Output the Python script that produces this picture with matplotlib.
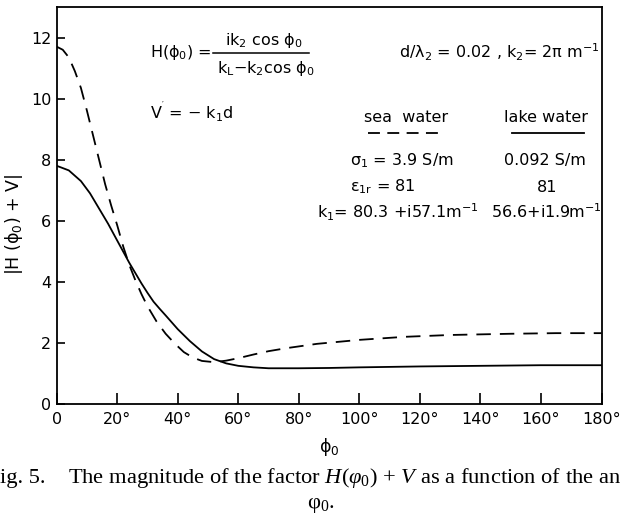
import matplotlib.pyplot as plt
from matplotlib.lines import Line2D

plt.rcParams['font.family'] = ['DejaVu Sans']
plt.rcParams['mathtext.default'] = 'regular'
plt.rcParams['mathtext.fontset'] = 'custom'
plt.rcParams['mathtext.it'] = 'Liberation Serif:italic'
plt.rcParams['mathtext.rm'] = 'Liberation Serif'

# angle phi_0 in degrees, |H(phi_0)+V|
phi_sea = [0, 2, 4, 6, 8, 10, 12, 14, 16, 18, 20, 22, 24, 26, 28, 30, 33, 36, 39, 42,
           45, 48, 52, 56, 60, 65, 70, 76, 86, 100, 115, 130, 150, 165, 180]
sea = [11.7, 11.6, 11.35, 10.9, 10.35, 9.6, 8.8, 8.0, 7.2, 6.5, 5.85, 5.15, 4.55, 4.05,
       3.6, 3.2, 2.7, 2.3, 1.98, 1.7, 1.52, 1.41, 1.37, 1.42, 1.5, 1.62, 1.73, 1.83,
       1.97, 2.1, 2.2, 2.26, 2.3, 2.32, 2.32]

phi_lake = [0, 4, 8, 11, 14, 17, 20, 24, 28, 30, 32, 34, 36, 40, 44, 48, 52, 56, 60, 65,
            70, 80, 90, 100, 120, 140, 160, 180]
lake = [7.8, 7.65, 7.3, 6.9, 6.4, 5.9, 5.35, 4.62, 3.95, 3.64, 3.35, 3.12, 2.9, 2.45,
        2.06, 1.72, 1.47, 1.33, 1.25, 1.2, 1.17, 1.17, 1.18, 1.2, 1.23, 1.25, 1.27, 1.27]

xticks = [0, 20, 40, 60, 80, 100, 120, 140, 160, 180]
xlabels = ['0'] + [f'{t}°' for t in xticks[1:]]
yticks = [0, 2, 4, 6, 8, 10, 12]

W, H = 627, 518
fig = plt.figure(figsize=(W / 100, H / 100), dpi=100)
ax = fig.add_axes([56.7 / W, 1 - 404 / H, (601.5 - 56.7) / W, (404 - 7) / H])

fs = 11.5
dash = (0, (8, 5))
ax.plot(phi_sea, sea, color='black', lw=1.3, ls=dash)
ax.plot(phi_lake, lake, color='black', lw=1.3)

ax.set_xlim(0, 180)
ax.set_ylim(0, 13)
ax.set_xticks(xticks)
ax.set_xticklabels(xlabels)
ax.set_yticks(yticks)
ax.tick_params(direction='in', width=1.2, labelsize=fs)
ax.tick_params(axis='x', length=8, pad=6)
ax.tick_params(axis='y', length=6, pad=4)
for s in ax.spines.values():
    s.set_linewidth(1.3)

ax.set_ylabel(r'|H ($\phi_0$) + V|', fontsize=12.5)
ax.yaxis.set_label_coords(-0.058, 0.453)
ax.set_xlabel(r'$\phi_0$', fontsize=fs + 1, labelpad=6)


def t(x, y, s, **kw):
    kw.setdefault('fontsize', fs)
    kw.setdefault('va', 'center')
    fig.text(x / W, 1 - y / H, s, **kw)


# formula block
t(150, 52, r'H($\phi_0$) =')
t(264, 40, r'ik$_2$ cos $\phi_0$', ha='center')
fig.add_artist(Line2D([213 / W, 309 / W], [1 - 53 / H, 1 - 53 / H], color='black', lw=1.1))
t(266, 68, r'k$_L$$-$k$_2$cos $\phi_0$', ha='center')
t(600, 52, r'd/$\lambda_2$ = 0.02 , k$_2$= 2$\pi$ m$^{-1}$', ha='right')
t(150, 112, r"V$^{'}$ = $-$ k$_1$d")

# legend table
t(406, 117, 'sea  water', ha='center')
t(546, 117, 'lake water', ha='center')
fig.add_artist(Line2D([368 / W, 439 / W], [1 - 133 / H, 1 - 133 / H], color='black',
                      lw=1.3, ls=(0, (6.6, 4.1))))
fig.add_artist(Line2D([512 / W, 584 / W], [1 - 133 / H, 1 - 133 / H], color='black', lw=1.3))
t(402, 161, r'$\sigma_1$ = 3.9 S/m', ha='center')
t(545, 161, '0.092 S/m', ha='center')
t(350, 187, r'$\epsilon_{1r}$ = 81')
t(547, 187, '81', ha='center')
t(398, 212, r'k$_1$= 80.3 +i57.1m$^{-1}$', ha='center')
t(546, 212, r'56.6+i1.9m$^{-1}$', ha='center')

# caption
cap = dict(family='Liberation Serif', fontsize=16.2, va='baseline')
t(0, 483, 'ig. 5.', **cap)
t(68, 483, r'The magnitude of the factor $\mathit{H}$($\mathit{\varphi}_0$) + $\mathit{V}$ as a function of the an',
  **cap)
t(321, 508, r'$\varphi_0$.', ha='center', **cap)

fig.savefig('out.png', dpi=100)
